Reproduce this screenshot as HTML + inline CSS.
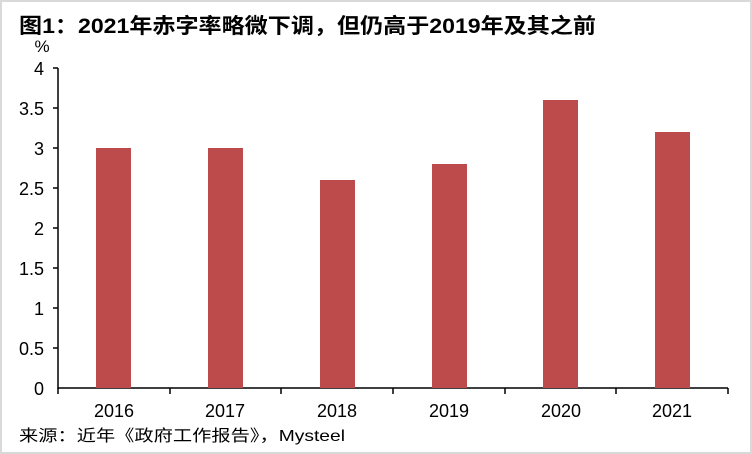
<!DOCTYPE html>
<html><head><meta charset="utf-8"><style>
body{margin:0;background:#fff}
svg{display:block}
</style></head><body>
<svg width="752" height="454" xmlns="http://www.w3.org/2000/svg" font-family="Liberation Sans, Noto Sans CJK SC, sans-serif">
<rect x="1" y="1" width="750" height="452" fill="#fff" stroke="#d9d9d9" stroke-width="2"/>
<text x="19" y="33" font-size="21" font-weight="bold" fill="#000" textLength="577" lengthAdjust="spacingAndGlyphs">图1：2021年赤字率略微下调，但仍高于2019年及其之前</text>
<text x="42" y="52" font-size="17" text-anchor="middle">%</text>
<g font-size="18" text-anchor="end">
<text x="44" y="75">4</text><text x="44" y="115">3.5</text><text x="44" y="155">3</text><text x="44" y="195">2.5</text><text x="44" y="235">2</text><text x="44" y="275">1.5</text><text x="44" y="315">1</text><text x="44" y="355">0.5</text><text x="44" y="395">0</text>
</g>
<g stroke="#000" stroke-width="1.5">
<line x1="58" y1="68" x2="58" y2="389"/>
<line x1="53" y1="68" x2="58" y2="68"/><line x1="53" y1="108" x2="58" y2="108"/><line x1="53" y1="148" x2="58" y2="148"/><line x1="53" y1="188" x2="58" y2="188"/><line x1="53" y1="228" x2="58" y2="228"/><line x1="53" y1="268" x2="58" y2="268"/><line x1="53" y1="308" x2="58" y2="308"/><line x1="53" y1="348" x2="58" y2="348"/>
<line x1="58" y1="388" x2="728" y2="388"/>
<line x1="58" y1="388" x2="58" y2="394"/><line x1="170" y1="388" x2="170" y2="394"/><line x1="281" y1="388" x2="281" y2="394"/><line x1="393" y1="388" x2="393" y2="394"/><line x1="505" y1="388" x2="505" y2="394"/><line x1="616" y1="388" x2="616" y2="394"/><line x1="728" y1="388" x2="728" y2="394"/>
</g>
<g fill="#bd4b4c">
<rect x="96" y="148" width="35" height="240"/>
<rect x="208" y="148" width="35" height="240"/>
<rect x="320" y="180" width="35" height="208"/>
<rect x="432" y="164" width="35" height="224"/>
<rect x="543" y="100" width="35" height="288"/>
<rect x="655" y="132" width="35" height="256"/>
</g>
<g font-size="18" text-anchor="middle">
<text x="114" y="417">2016</text><text x="225" y="417">2017</text><text x="337" y="417">2018</text><text x="449" y="417">2019</text><text x="561" y="417">2020</text><text x="672" y="417">2021</text>
</g>
<text x="19" y="441" font-size="16" textLength="326" lengthAdjust="spacingAndGlyphs">来源：近年《政府工作报告》，Mysteel</text>
</svg>
</body></html>
